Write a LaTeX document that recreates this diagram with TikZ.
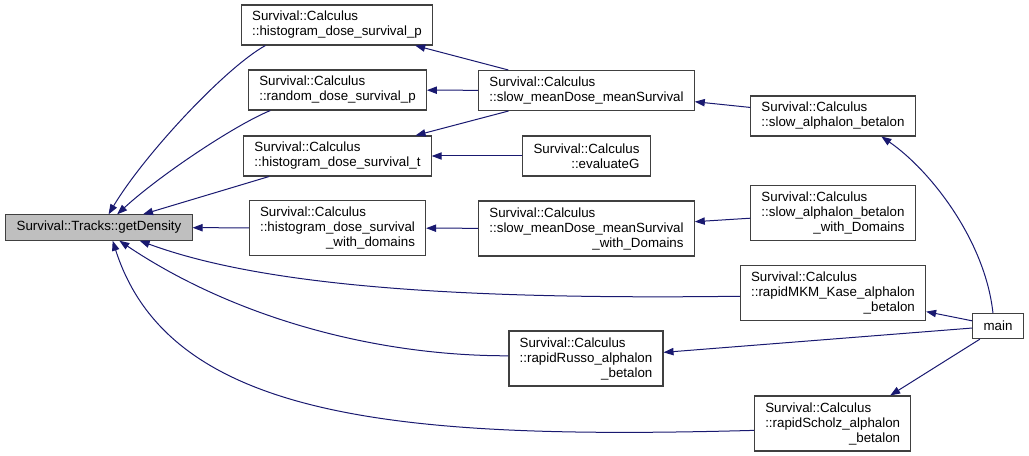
\documentclass[tikz,border=0pt]{standalone}
\usepackage{fontspec}
\setmainfont{Liberation Sans}
\usepackage{xcolor}
\usepackage{tikz}
\usetikzlibrary{arrows.meta, positioning, calc}
\definecolor{edgeblue}{HTML}{191970}
\definecolor{boxgray}{HTML}{BFBFBF}
\newcommand{\lastline}[1]{\hfill#1\hfill}

\begin{document}
\begin{tikzpicture}[
    x=0.75pt, y=-0.75pt,
    font=\fontsize{10}{11.25}\selectfont,
    >={Triangle[length=7.5pt, width=5.5pt]},
    func/.style={draw=black!75, line width=0.8pt, fill=white, align=left, inner xsep=8pt, inner ysep=2pt, minimum height=19pt},
    func2/.style={func, minimum height=30pt},
    func3/.style={func, minimum height=41.25pt},
    call/.style={->, draw=edgeblue, line width=0.75pt}
]
    \useasboundingbox (0,0) rectangle (1029,456);

    % Nodes
    \node[func, fill=boxgray] (dens) at (99,227.5) {Survival::Tracks::getDensity};

    \node[func2] (histP) at (337,25) {Survival::Calculus\\::histogram\_dose\_survival\_p};
    \node[func2] (randP) at (337.5,90) {Survival::Calculus\\::random\_dose\_survival\_p};
    \node[func2] (histT) at (337.5,156) {Survival::Calculus\\::histogram\_dose\_survival\_t};
    \node[func3] (histDom) at (337.5,228) {Survival::Calculus\\::histogram\_dose\_survival\\\lastline{\_with\_domains}};

    \node[func2] (slowMean) at (586.5,90.5) {Survival::Calculus\\::slow\_meanDose\_meanSurvival};
    \node[func2] (evalG) at (586.5,156) {Survival::Calculus\\\lastline{::evaluateG}};
    \node[func3] (slowMeanDom) at (586.5,228.5) {Survival::Calculus\\::slow\_meanDose\_meanSurvival\\\lastline{\_with\_Domains}};
    \node[func3] (rapidRusso) at (586,358.5) {Survival::Calculus\\::rapidRusso\_alphalon\\\lastline{\_betalon}};

    \node[func2] (slowAlpha) at (833,116) {Survival::Calculus\\::slow\_alphalon\_betalon};
    \node[func3] (slowAlphaDom) at (833,213) {Survival::Calculus\\::slow\_alphalon\_betalon\\\lastline{\_with\_Domains}};
    \node[func3] (rapidMKM) at (833,293) {Survival::Calculus\\::rapidMKM\_Kase\_alphalon\\\lastline{\_betalon}};
    \node[func3] (rapidScholz) at (832.7,423.5) {Survival::Calculus\\::rapidScholz\_alphalon\\\lastline{\_betalon}};

    \node[func, align=center] (main) at (998,326) {main};

    % Callers of getDensity
    \draw[call] (histP.196) .. controls (225,68) and (144,155) .. (dens.54);
    \draw[call] (randP.197) .. controls (235,125) and (160,175) .. (dens.36);
    \draw[call] (histT) -- (dens);
    \draw[call] (histDom) -- (dens);
    \draw[call] (rapidMKM.182) .. controls (450,300) and (260,285) .. (dens.-18);
    \draw[call] (rapidRusso.178) .. controls (370,356) and (230,315) .. (dens.-33);
    \draw[call] (rapidScholz.185) .. controls (400,440) and (170,420) .. (dens.-44);

    % Second level
    \draw[call] (slowMean) -- (histP);
    \draw[call] (slowMean) -- (randP);
    \draw[call] (slowMean) -- (histT);
    \draw[call] (evalG) -- (histT);
    \draw[call] (slowMeanDom) -- (histDom);
    \draw[call] (slowAlpha) -- (slowMean);
    \draw[call] (slowAlphaDom) -- (slowMeanDom);

    % main
    \draw[call] (main.111) .. controls (985,240) and (930,170) .. (slowAlpha.-23);
    \draw[call] (main) -- (rapidMKM);
    \draw[call] (main) -- (rapidRusso);
    \draw[call] (main.-144) -- (rapidScholz.26);
\end{tikzpicture}
\end{document}
